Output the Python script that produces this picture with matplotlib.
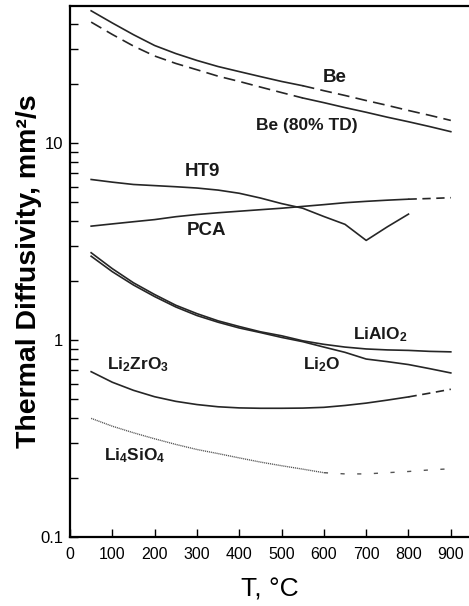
import matplotlib
matplotlib.use("Agg")
import matplotlib.pyplot as plt

plt.rcParams['font.family'] = ['Liberation Sans', 'DejaVu Sans']
plt.rcParams['mathtext.fontset'] = 'custom'
plt.rcParams['mathtext.bf'] = 'Liberation Sans:bold'
plt.rcParams['mathtext.rm'] = 'Liberation Sans'
plt.rcParams['lines.scale_dashes'] = False

# ---- data (T in deg C, thermal diffusivity in mm^2/s) ----
T_grid = [50, 100, 150, 200, 250, 300, 350, 400, 450, 500, 550]
T_ext = [550, 600, 650, 700, 750, 800, 850, 900]

be_meas = [46.8, 40.6, 35.4, 31.2, 28.4, 26.2, 24.4, 23.0, 21.7, 20.5, 19.5]
be_ext = [19.5, 18.4, 17.4, 16.4, 15.5, 14.6, 13.8, 13.0]

be80_meas = [41.0, 35.5, 31.0, 27.6, 25.3, 23.5, 21.8, 20.5, 19.2, 18.0, 16.9]
be80_ext = [16.9, 16.0, 15.1, 14.3, 13.5, 12.8, 12.1, 11.4]

T_ht9 = [50, 100, 150, 200, 250, 300, 350, 400, 450, 500, 550, 600, 650, 700, 750, 800]
ht9 = [6.52, 6.32, 6.15, 6.07, 5.99, 5.90, 5.76, 5.55, 5.25, 4.92, 4.66, 4.23, 3.86, 3.20, 3.75, 4.35]

T_pca = [50, 100, 150, 200, 250, 300, 350, 400, 450, 500, 550, 600, 650, 700, 750, 800]
pca = [3.78, 3.88, 3.98, 4.08, 4.22, 4.33, 4.42, 4.50, 4.58, 4.66, 4.76, 4.86, 4.97, 5.05, 5.12, 5.18]
T_pca_ext = [800, 850, 900]
pca_ext = [5.18, 5.22, 5.27]

T_full = [50, 100, 150, 200, 250, 300, 350, 400, 450, 500, 550, 600, 650, 700, 750, 800, 850, 900]
lialo2 = [2.77, 2.30, 1.95, 1.70, 1.50, 1.36, 1.25, 1.17, 1.10, 1.05, 0.99, 0.95, 0.92, 0.90, 0.89, 0.885, 0.875, 0.87]
li2o = [2.66, 2.22, 1.90, 1.66, 1.47, 1.33, 1.23, 1.15, 1.09, 1.03, 0.98, 0.92, 0.865, 0.80, 0.776, 0.75, 0.715, 0.68]

T_lzo = [50, 100, 150, 200, 250, 300, 350, 400, 450, 500, 550, 600, 650, 700, 750, 800]
li2zro3 = [0.69, 0.61, 0.555, 0.515, 0.488, 0.470, 0.458, 0.452, 0.450, 0.450, 0.451, 0.455, 0.465, 0.478, 0.495, 0.514]
T_lzo_ext = [800, 850, 900]
li2zro3_ext = [0.514, 0.537, 0.562]

T_lso = [50, 100, 150, 200, 250, 300, 350, 400, 450, 500, 550, 600]
li4sio4 = [0.40, 0.365, 0.338, 0.315, 0.295, 0.278, 0.265, 0.252, 0.240, 0.230, 0.221, 0.212]
T_lso_ext = [600, 650, 700, 750, 800, 850, 900]
li4sio4_ext = [0.212, 0.209, 0.209, 0.212, 0.215, 0.219, 0.222]

x_ticks = [0, 100, 200, 300, 400, 500, 600, 700, 800, 900]
y_ticks = [0.1, 1, 10]
y_ticklabels = ['0.1', '1', '10']

# ---- figure ----
fig = plt.figure(figsize=(4.69, 6.06), dpi=100)
ax = fig.add_axes([70/469, 1-537/606, 1-70/469, (537-6)/606])

lc = '#262626'
lw = 1.2
dash = (0, (8.5, 4.5))

ax.plot(T_grid, be_meas, color=lc, lw=lw)
ax.plot(T_ext, be_ext, color=lc, lw=lw, linestyle=dash)
ax.plot(T_grid, be80_meas, color=lc, lw=lw, linestyle=dash)
ax.plot(T_ext, be80_ext, color=lc, lw=lw)
ax.plot(T_ht9, ht9, color=lc, lw=lw)
ax.plot(T_pca, pca, color=lc, lw=lw)
ax.plot(T_pca_ext, pca_ext, color=lc, lw=lw, linestyle=(0, (6, 4)))
ax.plot(T_full, lialo2, color=lc, lw=lw)
ax.plot(T_full, li2o, color=lc, lw=lw)
ax.plot(T_lzo, li2zro3, color=lc, lw=lw)
ax.plot(T_lzo_ext, li2zro3_ext, color=lc, lw=lw, linestyle=(0, (6, 4)))
ax.plot(T_lso, li4sio4, color='#555555', lw=1.0, linestyle=(0, (0.8, 0.6)))
ax.plot(T_lso_ext, li4sio4_ext, color='#555555', lw=1.0, linestyle=(0, (3, 9)))

ax.set_yscale('log')
ax.set_xlim(0, 943)
ax.set_ylim(0.1, 49.5)
ax.set_xticks(x_ticks)
ax.set_xticklabels([str(v) for v in x_ticks])
ax.set_yticks(y_ticks)
ax.set_yticklabels(y_ticklabels)

ax.tick_params(axis='both', which='both', direction='in', length=6, width=1.0,
               labelsize=11.5, top=False, right=False)
ax.tick_params(axis='x', pad=7)
ax.tick_params(axis='y', pad=5, labelsize=12)
for s in ['left', 'bottom', 'top']:
    ax.spines[s].set_linewidth(1.6)
ax.spines['right'].set_visible(False)

tk = dict(fontsize=13.5, fontweight='bold', ha='center', va='center', color='#1a1a1a')
ax.text(626, 21.5, 'Be', **tk)
ax.text(560, 12.3, 'Be (80% TD)', **dict(tk, fontsize=12.5))
ax.text(314, 7.13, 'HT9', **tk)
ax.text(322, 3.6, 'PCA', **tk)
ax.text(733, 1.06, r'$\mathbf{LiAlO_2}$', **dict(tk, fontsize=12.5))
ax.text(595, 0.753, r'$\mathbf{Li_2O}$', **dict(tk, fontsize=12.5))
ax.text(161, 0.753, r'$\mathbf{Li_2ZrO_3}$', **dict(tk, fontsize=12.5))
ax.text(154, 0.26, r'$\mathbf{Li_4SiO_4}$', **dict(tk, fontsize=12.5))

ax.set_xlabel('T, °C', fontsize=19, labelpad=11)
ax.set_ylabel('Thermal Diffusivity, mm²/s', fontsize=20.5, fontweight='bold')
ax.yaxis.set_label_coords(-0.07, 0.5)

fig.savefig('out.png', dpi=100)
